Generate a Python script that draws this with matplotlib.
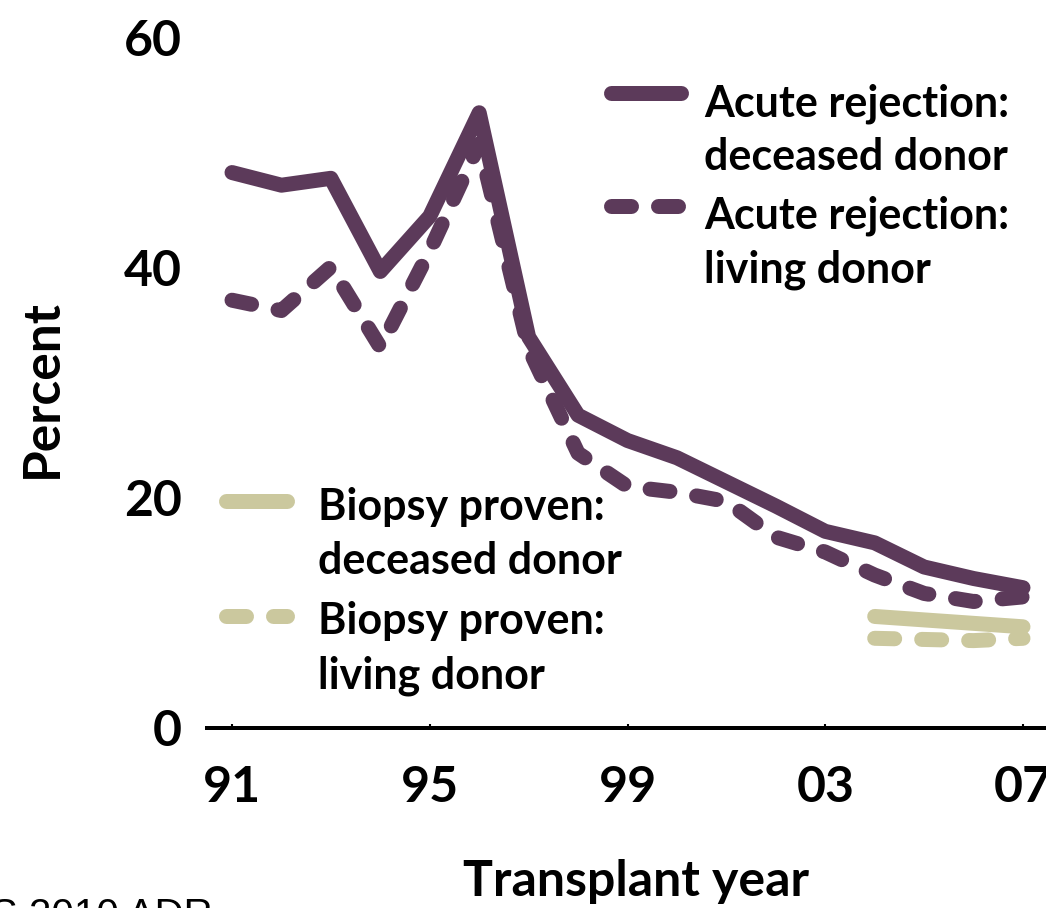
import matplotlib
matplotlib.use("Agg")
import matplotlib.pyplot as plt
from matplotlib.lines import Line2D
from matplotlib import font_manager

# ---------------- data ----------------
years = [1991, 1992, 1993, 1994, 1995, 1996, 1997, 1998, 1999,
         2000, 2001, 2002, 2003, 2004, 2005, 2006, 2007]
acute_deceased = [48.3, 47.2, 47.8, 39.7, 44.5, 53.5, 34.0, 27.2, 25.0,
                  23.5, 21.4, 19.3, 17.1, 16.1, 14.0, 13.0, 12.2]
acute_living = [37.2, 36.3, 40.1, 33.1, 41.5, 50.8, 33.0, 23.9, 21.0,
                20.5, 19.7, 16.6, 15.3, 13.3, 11.7, 11.0, 11.4]
biopsy_years = [2004, 2005, 2006, 2007]
biopsy_deceased = [9.7, 9.4, 9.1, 8.8]
biopsy_living = [7.8, 7.7, 7.6, 7.8]

xtick_years = [1991, 1995, 1999, 2003, 2007]
xtick_labels = ["91", "95", "99", "03", "07"]
ytick_vals = [0, 20, 40, 60]
ytick_labels = ["0", "20", "40", "60"]

legend_acute = [("Acute rejection:", "deceased donor"), ("Acute rejection:", "living donor")]
legend_biopsy = [("Biopsy proven:", "deceased donor"), ("Biopsy proven:", "living donor")]

# ---------------- style ----------------
PURPLE = "#5C3A5A"
BEIGE = "#CBC89E"
names = {f.name for f in font_manager.fontManager.ttflist}
FONT = ["Lato", "DejaVu Sans"] if "Lato" in names else ["DejaVu Sans"]
plt.rcParams["font.family"] = FONT
plt.rcParams["lines.scale_dashes"] = False

W, H = 1046, 908
DPI = 100
PX = 72.0 / DPI  # points per pixel
LW = 15 * PX
DASH = (20 * PX, 27 * PX)

fig = plt.figure(figsize=(W / DPI, H / DPI), dpi=DPI)
fig.patch.set_facecolor("white")

# axes placement (pixels)
ax_left, ax_right, ax_bottom, ax_top = 205, 1046, 728, 38
ax = fig.add_axes([ax_left / W, (H - ax_bottom) / H,
                   (ax_right - ax_left) / W, (ax_bottom - ax_top) / H])
px_per_year = (1023 - 232) / 16.0
ax.set_xlim(1991 + (ax_left - 232) / px_per_year, 1991 + (ax_right - 232) / px_per_year)
ax.set_ylim(0, 60)

common = dict(linewidth=LW, solid_capstyle="round", dash_capstyle="round",
              solid_joinstyle="round", dash_joinstyle="round")
ax.plot(biopsy_years, biopsy_living, color=BEIGE, linestyle=(0, DASH), **common)
ax.plot(biopsy_years, biopsy_deceased, color=BEIGE, linestyle="-", **common)
ax.plot(years, acute_living, color=PURPLE, linestyle=(0, DASH), **common)
ax.plot(years, acute_deceased, color=PURPLE, linestyle="-", **common)

for s in ["top", "right", "left"]:
    ax.spines[s].set_visible(False)
ax.spines["bottom"].set_linewidth(4 * PX)
ax.spines["bottom"].set_color("black")
ax.spines["bottom"].set_capstyle("butt")

ax.set_xticks(xtick_years)
ax.set_xticklabels(xtick_labels)
ax.set_yticks(ytick_vals)
ax.set_yticklabels(ytick_labels)
ax.tick_params(axis="x", direction="in", length=3, width=1.5, pad=27,
               labelsize=36)
ax.tick_params(axis="y", length=0, pad=16.5, labelsize=36)
for lab in ax.get_xticklabels() + ax.get_yticklabels():
    lab.set_fontweight("bold")
ax.patch.set_alpha(0)

def fx(x):
    return x / W

def fy(y):
    return 1 - y / H

# axis titles
fig.text(fx(636), fy(881), "Transplant year", ha="center", va="center",
         fontsize=36, fontweight="bold")
fig.text(fx(42), fy(389), "Percent", ha="center", va="center", rotation=90,
         fontsize=37, fontweight="bold")

# legends (keys + text)
def legend_block(entries, color, key_x0, key_x1, key_ys, text_x, baselines):
    styles = ["-", (0, DASH)]
    for i, (l1, l2) in enumerate(entries):
        ln = Line2D([fx(key_x0 + 7.5), fx(key_x1 - 7.5)], [fy(key_ys[i])] * 2,
                    transform=fig.transFigure, color=color, linestyle=styles[i],
                    **common)
        fig.add_artist(ln)
        fig.text(fx(text_x), fy(baselines[2 * i]), l1, ha="left", va="baseline",
                 fontsize=31, fontweight="bold")
        fig.text(fx(text_x), fy(baselines[2 * i + 1]), l2, ha="left", va="baseline",
                 fontsize=31, fontweight="bold")

legend_block(legend_acute, PURPLE, 603, 688, [93, 206], 704, [116, 170, 228, 282])
legend_block(legend_biopsy, BEIGE, 218, 294, [501, 616], 318, [520, 574, 634, 689])

# source note (partly cut off at the bottom-left edge)
fig.text(fx(213), fy(897), "USRDS 2010 ADR", ha="right", va="top",
         fontsize=29, family=["Liberation Sans", "DejaVu Sans"])

fig.savefig("out.png", dpi=DPI)
